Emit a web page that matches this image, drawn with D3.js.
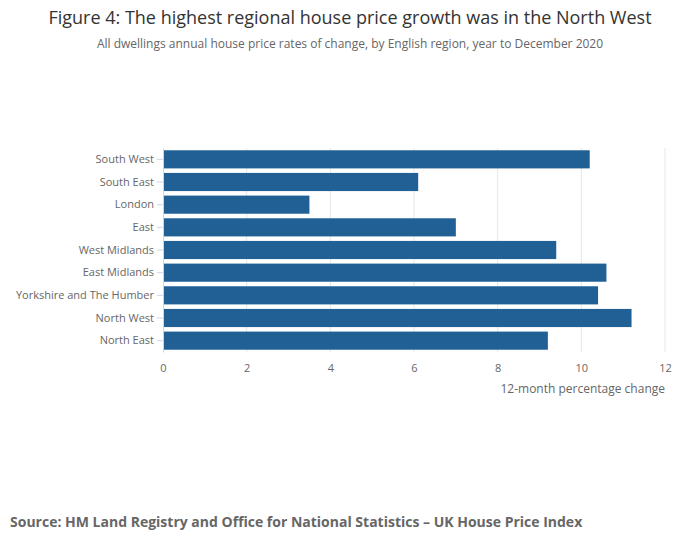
<!DOCTYPE html>
<html><head><meta charset="utf-8">
<script src="https://cdn.jsdelivr.net/npm/d3@7"></script>
<style>
body{margin:0;background:#fff;font-family:"Open Sans",sans-serif;}
</style></head><body>
<div id="chart"></div>
<script>
const regions = ["South West","South East","London","East","West Midlands","East Midlands","Yorkshire and The Humber","North West","North East"];
const values = [10.2,6.1,3.5,7.0,9.4,10.6,10.4,11.2,9.2];
const xTicks = [0,2,4,6,8,10,12];

const W = 700, H = 549;
const m = {left:163, right:35, top:148, bottom:197};
const svg = d3.select("#chart").append("svg").attr("width",W).attr("height",H);

svg.append("text").attr("x",W/2).attr("y",24).attr("text-anchor","middle")
  .attr("font-size",18).attr("fill","#333")
  .text("Figure 4: The highest regional house price growth was in the North West");
svg.append("text").attr("x",W/2).attr("y",48).attr("text-anchor","middle")
  .attr("font-size",12).attr("fill","#666")
  .text("All dwellings annual house price rates of change, by English region, year to December 2020");

const x = d3.scaleLinear().domain([0,12]).range([m.left, W-m.right]);
const y = d3.scaleBand().domain(regions).range([m.top, H-m.bottom]).paddingInner(0.2).paddingOuter(0.1);

const g = svg.append("g");
g.selectAll(".grid").data(xTicks.slice(1)).join("line")
  .attr("x1",d=>x(d)).attr("x2",d=>x(d)).attr("y1",m.top).attr("y2",H-m.bottom)
  .attr("stroke","#e6e6e6");

g.selectAll(".bar").data(values).join("rect")
  .attr("x",x(0)).attr("y",(d,i)=>y(regions[i])).attr("height",y.bandwidth())
  .attr("width",d=>x(d)-x(0)).attr("fill","#206095");

const yAxis = g.append("g").attr("transform",`translate(${m.left},0)`)
  .call(d3.axisLeft(y).tickSize(6).tickSizeOuter(0));
yAxis.select(".domain").attr("stroke","#ccd6eb");
yAxis.selectAll(".tick line").attr("stroke","#ccd6eb");
yAxis.selectAll("text").attr("font-size",11).attr("fill","#666").attr("font-family","Open Sans");

const xAxis = g.append("g").attr("transform",`translate(0,${H-m.bottom+6})`)
  .call(d3.axisBottom(x).tickValues(xTicks).tickSize(0).tickPadding(6));
xAxis.select(".domain").remove();
xAxis.selectAll("text").attr("font-size",11).attr("fill","#666").attr("font-family","Open Sans");

svg.append("text").attr("x",x(12)).attr("y",393).attr("text-anchor","end")
  .attr("font-size",12).attr("fill","#666").text("12-month percentage change");

svg.append("text").attr("x",10).attr("y",527).attr("font-size",14).attr("font-weight","bold")
  .attr("fill","#666").text("Source: HM Land Registry and Office for National Statistics – UK House Price Index");
</script>
</body></html>
